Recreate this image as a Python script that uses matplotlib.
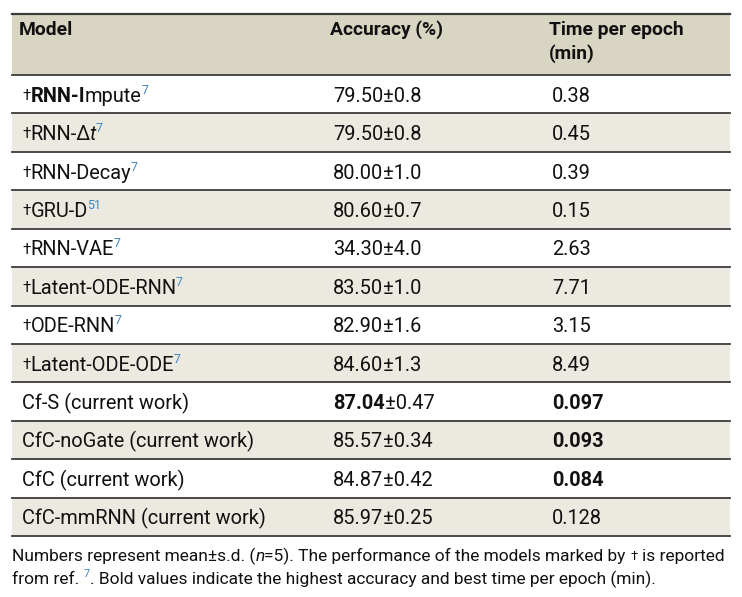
import matplotlib
matplotlib.use("Agg")
import matplotlib.pyplot as plt
from matplotlib.patches import Rectangle

# Table content
MODELS = ["RNN-Impute", "RNN-Δt", "RNN-Decay", "GRU-D", "RNN-VAE",
          "Latent-ODE-RNN", "ODE-RNN", "Latent-ODE-ODE",
          "Cf-S (current work)", "CfC-noGate (current work)",
          "CfC (current work)", "CfC-mmRNN (current work)"]
DAGGER = [True] * 8 + [False] * 4
REFS = ["7", "7", "7", "51", "7", "7", "7", "7", "", "", "", ""]
ACC_MEAN = ["79.50", "79.50", "80.00", "80.60", "34.30", "83.50", "82.90",
            "84.60", "87.04", "85.57", "84.87", "85.97"]
ACC_SD = ["0.8", "0.8", "1.0", "0.7", "4.0", "1.0", "1.6", "1.3",
          "0.47", "0.34", "0.42", "0.25"]
TIME = ["0.38", "0.45", "0.39", "0.15", "2.63", "7.71", "3.15", "8.49",
        "0.097", "0.093", "0.084", "0.128"]
BOLD_ACC = [False] * 8 + [True, False, False, False]
BOLD_TIME = [False] * 8 + [True, True, True, False]
HEADERS = ["Model", "Accuracy (%)", "Time per epoch\n(min)"]

W, H = 742, 597
HEAD_BG = "#d9d5c3"
ALT_BG = "#ece9e0"
LINE = "#3c3c3c"
TEXT = "#111111"
REF_COL = "#3f86c4"
FONT = "Roboto"
FS = 14.4
HFS = 13.9
FN = 12.5

LEFT, RIGHT = 12, 730
TOP, HEAD_BOT = 14, 75
ROW_H = (536 - 75) / 12
COL_X = [22, 333, 552]

fig = plt.figure(figsize=(W / 100, H / 100), dpi=100)
ax = fig.add_axes([0, 0, 1, 1])
ax.set_xlim(0, W)
ax.set_ylim(H, 0)
ax.axis("off")
renderer = fig.canvas.get_renderer()


def width_of(t):
    return t.get_window_extent(renderer).width


def space_width(size):
    a = ax.text(0, 0, "x x", fontsize=size, family=FONT)
    b = ax.text(0, 0, "xx", fontsize=size, family=FONT)
    w = width_of(a) - width_of(b)
    a.remove(); b.remove()
    return w


def runs(x, y, pieces, size=FS):
    """Draw pieces (text, weight, style, color, kind, dx) on one baseline.
    kind: 'txt' normal, 'sup' superscript, 'dag' small raised dagger, 'sp' a space."""
    for s, weight, style, color, kind, dx in pieces:
        x += dx
        if kind == "sp":
            x += space_width(size)
            continue
        if kind == "sup":
            fs, yy = size * 0.62, y - size * 0.55
        elif kind == "dag":
            fs, yy = size * 0.75, y - size * 0.12
        else:
            fs, yy = size, y
        t = ax.text(x, yy, s, fontsize=fs, family=FONT, fontweight=weight,
                    fontstyle=style, color=color, va="baseline", ha="left")
        x += width_of(t)
    return x


# Backgrounds
ax.add_patch(Rectangle((LEFT, TOP), RIGHT - LEFT, HEAD_BOT - TOP,
                       facecolor=HEAD_BG, edgecolor="none"))
for i in range(len(MODELS)):
    if i % 2 == 1:
        ax.add_patch(Rectangle((LEFT, HEAD_BOT + i * ROW_H), RIGHT - LEFT, ROW_H,
                               facecolor=ALT_BG, edgecolor="none"))

# Lines
ax.plot([LEFT, RIGHT], [TOP, TOP], color=LINE, lw=1.6)
for i in range(len(MODELS) + 1):
    yl = HEAD_BOT + i * ROW_H
    ax.plot([LEFT, RIGHT], [yl, yl], color=LINE, lw=1.3)

# Header
for x, h in zip(COL_X, HEADERS):
    for k, line in enumerate(h.split("\n")):
        ax.text(x - 3, 35 + k * 24, line, fontsize=HFS, family=FONT,
                fontweight="bold", color=TEXT, va="baseline", ha="left")

N, B, I = "normal", "bold", "italic"

# Rows
for i, m in enumerate(MODELS):
    yb = HEAD_BOT + i * ROW_H + ROW_H / 2 + 7.5
    pieces = []
    if DAGGER[i]:
        pieces.append(("†", N, N, TEXT, "dag", 0))
    if m == "RNN-Impute":
        pieces += [("RNN-I", B, N, TEXT, "txt", 0),
                   ("mpute", N, N, TEXT, "txt", 0)]
    elif m == "RNN-Δt":
        pieces += [("RNN-Δ", N, N, TEXT, "txt", 0),
                   ("t", N, I, TEXT, "txt", -1)]
    else:
        pieces.append((m, N, N, TEXT, "txt", 0))
    if REFS[i]:
        pieces.append((REFS[i], N, N, REF_COL, "sup", -0.5))
    runs(COL_X[0], yb, pieces)

    runs(COL_X[1], yb, [(ACC_MEAN[i], B if BOLD_ACC[i] else N, N, TEXT, "txt", 0),
                        ("±" + ACC_SD[i], N, N, TEXT, "txt", 0)])
    runs(COL_X[2], yb, [(TIME[i], B if BOLD_TIME[i] else N, N, TEXT, "txt", 0)])

# Footnote
runs(12, 561, [("Numbers represent mean±s.d. (", N, N, TEXT, "txt", 0),
               ("n", N, I, TEXT, "txt", 0),
               ("=5). The performance of the models marked by", N, N, TEXT, "txt", 0),
               ("", N, N, TEXT, "sp", 0),
               ("†", N, N, TEXT, "dag", 0),
               ("", N, N, TEXT, "sp", 0),
               ("is reported", N, N, TEXT, "txt", 0)], size=FN)
runs(12, 584, [("from ref.", N, N, TEXT, "txt", 0),
               ("", N, N, TEXT, "sp", 0),
               ("7", N, N, REF_COL, "sup", 0),
               (". Bold values indicate the highest accuracy and best time per epoch (min).",
                N, N, TEXT, "txt", 0)], size=FN)

fig.savefig("out.png", dpi=100)
